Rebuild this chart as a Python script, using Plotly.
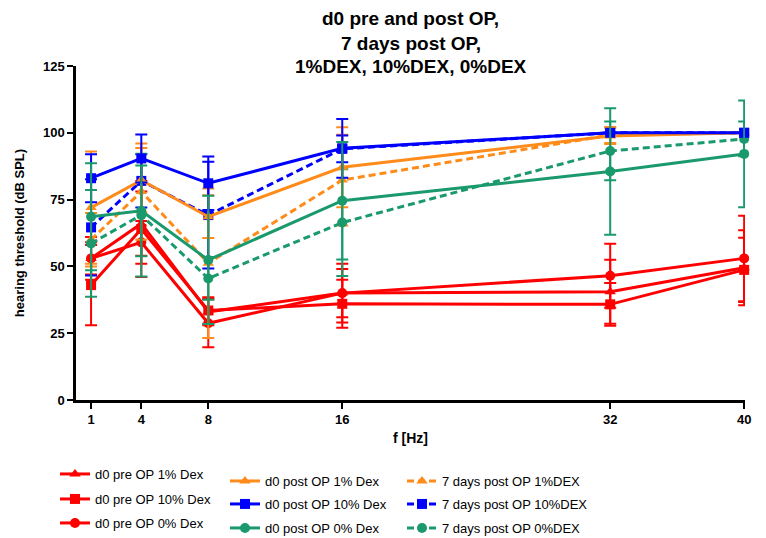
import plotly.graph_objects as go

freq = [1, 4, 8, 16, 32, 40]
x_ticks = [1, 4, 8, 16, 32, 40]
y_ticks = [0, 25, 50, 75, 100, 125]

names = [
    "d0 pre OP 1% Dex", "d0 pre OP 10% Dex", "d0 pre OP 0% Dex",
    "d0 post OP 1% Dex", "d0 post OP 10% Dex", "d0 post OP 0% Dex",
    "7 days post OP 1%DEX", "7 days post OP 10%DEX", "7 days post OP 0%DEX",
]
title_lines = ["d0 pre and post OP,", "7 days post OP,", "1%DEX, 10%DEX, 0%DEX"]

pre_1 = [53, 66, 33, 40, 40.5, 49.5]
pre_1_sd = [8, 12, 5, 9, 12, 14]
pre_10 = [43, 64, 33.5, 36, 35.8, 48.7]
pre_10_sd = [15, 18, 5, 9, 8, 12]
pre_0 = [53, 59, 28.7, 40, 46.5, 53]
pre_0_sd = [6, 8, 9, 11, 12, 16]

post_1 = [72, 82.3, 68.6, 87.1, 98.8, 100]
post_1_sd = [21, 12, 8, 15, 3, 0]
post_10 = [83, 90.4, 81.1, 94.2, 100, 100]
post_10_sd = [9, 9, 10, 11, 0, 0]
post_0 = [68.6, 70.8, 52.4, 74.6, 85.5, 92.1]
post_0_sd = [20, 17, 24, 22, 23.7, 20]

d7_1 = [60, 78, 51.2, 82.3, 99.2, 100]
d7_1_sd = [10, 18, 28, 17, 3, 0]
d7_10 = [64.6, 82, 69.2, 94, 100, 100]
d7_10_sd = [18, 10, 20, 5, 0, 0]
d7_0 = [58.6, 69.2, 45.5, 66.4, 93.2, 97.7]
d7_0_sd = [20, 23, 8, 20, 11, 6.5]

RED = "#FF0000"
ORANGE = "#FF8C1A"
BLUE = "#0000FF"
GREEN = "#1A9A6C"

series = [
    (pre_1, pre_1_sd, RED, "triangle-up", "solid"),
    (pre_10, pre_10_sd, RED, "square", "solid"),
    (pre_0, pre_0_sd, RED, "circle", "solid"),
    (post_1, post_1_sd, ORANGE, "triangle-up", "solid"),
    (post_10, post_10_sd, BLUE, "square", "solid"),
    (post_0, post_0_sd, GREEN, "circle", "solid"),
    (d7_1, d7_1_sd, ORANGE, "triangle-up", "dash"),
    (d7_10, d7_10_sd, BLUE, "square", "dash"),
    (d7_0, d7_0_sd, GREEN, "circle", "dash"),
]

# page body has an 8px margin; work in page pixels and convert
OFF = 8
W, H = 766 - OFF, 538 - OFF
PL, PR, PT, PB = 76 - OFF, 745 - OFF, 66 - OFF, 400 - OFF

def px2paper_x(px):
    return (px - OFF - PL) / (PR - PL)

def px2paper_y(py):
    return (PB - (py - OFF)) / (PB - PT)

leg_px = [
    (55, 474), (55, 499), (55, 523),
    (225, 481), (225, 504), (225, 528),
    (402, 481), (402, 504), (402, 528),
]

FONT = "Liberation Sans, Arial, sans-serif"

fig = go.Figure()
order = [0, 1, 2, 6, 7, 8, 3, 4, 5]
for i in order:
    y, sd, col, sym, dash = series[i]
    lname = "legend" if i == 0 else f"legend{i+1}"
    fig.add_trace(go.Scatter(
        x=freq, y=y, name=names[i], mode="lines+markers",
        line=dict(color=col, width=3, dash="7px,4px" if dash == "dash" else "solid"),
        marker=dict(symbol=sym, size=10, color=col),
        error_y=dict(type="data", array=sd, visible=True, color=col, thickness=2, width=6),
        cliponaxis=False,
        legend=lname,
    ))

layout_legends = {}
for i, (lx, ly) in enumerate(leg_px):
    key = "legend" if i == 0 else f"legend{i+1}"
    layout_legends[key] = dict(
        x=px2paper_x(lx), y=px2paper_y(ly), xanchor="left", yanchor="middle",
        font=dict(family=FONT, size=13, color="black"),
        bgcolor="rgba(0,0,0,0)", itemwidth=30,
    )

title_y_px = [19, 43, 67]
annotations = [
    dict(text=t, xref="paper", yref="paper", x=0.5, y=px2paper_y(py),
         xanchor="center", yanchor="middle", showarrow=False,
         font=dict(family=FONT, size=19, color="black", weight="bold"))
    for t, py in zip(title_lines, title_y_px)
]

fig.update_layout(
    width=W, height=H,
    margin=dict(l=PL, r=W - PR, t=PT, b=H - PB, autoexpand=False),
    paper_bgcolor="white", plot_bgcolor="white",
    showlegend=True,
    annotations=annotations,
    **layout_legends,
)

fig.update_xaxes(
    range=[0.1, 40.05], tickvals=x_ticks, ticktext=[str(v) for v in x_ticks],
    showline=True, linecolor="black", linewidth=2.5, ticks="outside", ticklen=6, tickwidth=2,
    tickcolor="black", showgrid=False, zeroline=False,
    tickfont=dict(family=FONT, size=13, color="black", weight="bold"),
    title=dict(text="f [Hz]", font=dict(family=FONT, size=14, color="black", weight="bold"), standoff=7),
)
fig.update_yaxes(
    range=[0, 125], tickvals=y_ticks, ticktext=[str(v) for v in y_ticks],
    showline=True, linecolor="black", linewidth=2.5, ticks="outside", ticklen=6, tickwidth=2,
    tickcolor="black", showgrid=False, zeroline=False,
    tickfont=dict(family=FONT, size=13, color="black", weight="bold"),
    title=dict(text="hearing threshold (dB SPL)", font=dict(family=FONT, size=13, color="black", weight="bold"), standoff=16),
)

fig.write_html("out.html")
